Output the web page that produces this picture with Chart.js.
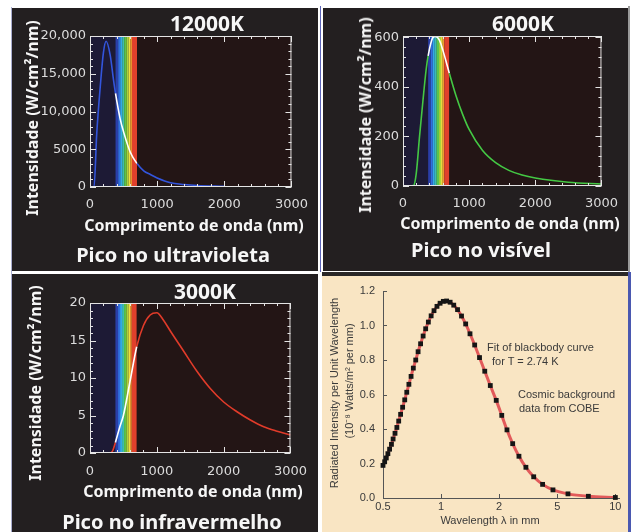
<!DOCTYPE html>
<html>
<head>
<meta charset="utf-8">
<script src="https://cdn.jsdelivr.net/npm/chart.js@4.4.1/dist/chart.umd.min.js"></script>
<style>
  body { margin: 0; width: 632px; height: 532px; background: #fff; position: relative; overflow: hidden; }
  .panel { position: absolute; background: #231f20; }
  .panel canvas { position: absolute; left: 0; top: 0; }
  .line { position: absolute; }
  .t { position: absolute; transform: translate(-50%, -50%); white-space: nowrap; font-family: "Noto Sans", sans-serif; font-weight: 700; color: #f6f6f6; line-height: 1; }
  .t.r { transform: translate(-50%, -50%) rotate(-90deg); }
  .h { font-size: 21px; }
  .ax { font-size: 16px; }
  .cap { font-size: 20px; }
  .c { position: absolute; white-space: nowrap; font-family: "Liberation Sans", Arial, sans-serif; font-size: 11px; color: #3a3a3a; line-height: 1; transform: translateY(-50%); }
  .c.mid { transform: translate(-50%, -50%); }
  .c.r { transform: translate(-50%, -50%) rotate(-90deg); }
</style>
</head>
<body>

<div class="line" style="left:11px; top:7px; width:1px; height:525px; background:#a9add0;"></div>
<div class="line" style="left:320px; top:6px; width:1px; height:266px; background:#5b63b8;"></div>
<div class="line" style="left:628px; top:6px; width:2px; height:266px; background:#9a9a9a;"></div>
<div class="line" style="left:322px; top:272px; width:306px; height:4px; background:#2a2828;"></div>
<div class="line" style="left:628px; top:272px; width:3px; height:260px; background:#4a58b0;"></div>

<div class="panel" style="left:12px; top:8px; width:306px; height:263px;"><canvas id="c12000" width="306" height="263"></canvas></div>
<div class="panel" style="left:323px; top:8px; width:305px; height:263px;"><canvas id="c6000" width="305" height="263"></canvas></div>
<div class="panel" style="left:12px; top:274px; width:306px; height:258px;"><canvas id="c3000" width="306" height="258"></canvas></div>
<div class="panel" style="left:322px; top:276px; width:306px; height:256px; background:#f9e5c3;"><canvas id="cobe" width="306" height="256"></canvas></div>

<!-- 12000K -->
<div class="t h" style="left:207px; top:23px;">12000K</div>
<div class="t ax r" style="left:32px; top:118px;">Intensidade (W/cm²/nm)</div>
<div class="t ax" style="left:194px; top:225px;">Comprimento de onda (nm)</div>
<div class="t cap" style="left:173px; top:255px;">Pico no ultravioleta</div>

<!-- 6000K -->
<div class="t h" style="left:523px; top:23px;">6000K</div>
<div class="t ax r" style="left:365px; top:115px;">Intensidade (W/cm²/nm)</div>
<div class="t ax" style="left:510px; top:223px;">Comprimento de onda (nm)</div>
<div class="t cap" style="left:481px; top:250px;">Pico no visível</div>

<!-- 3000K -->
<div class="t h" style="left:205px; top:291px;">3000K</div>
<div class="t ax r" style="left:35px; top:383px;">Intensidade (W/cm²/nm)</div>
<div class="t ax" style="left:193px; top:491px;">Comprimento de onda (nm)</div>
<div class="t cap" style="left:172px; top:522px;">Pico no infravermelho</div>

<!-- COBE -->
<div class="c r" style="left:334px; top:393px;">Radiated Intensity per Unit Wavelength</div>
<div class="c r" style="left:349px; top:381px;">(10⁻⁸ Watts/m² per mm)</div>
<div class="c mid" style="left:490px; top:520px;">Wavelength λ in mm</div>
<div class="c" style="left:487px; top:347px;">Fit of blackbody curve</div>
<div class="c" style="left:492px; top:361px;">for T = 2.74 K</div>
<div class="c" style="left:518px; top:394px;">Cosmic background</div>
<div class="c" style="left:519px; top:408px;">data from COBE</div>

<script>
// Wavelength samples (nm) and intensity (W/cm2/nm)
const wave12000 = [0, 60, 100, 150, 200, 240, 300, 350, 380, 450, 500, 600, 700, 800, 900, 1000, 1200, 1400, 1600, 2000];
const int12000 = [0, 0, 7000, 13000, 17800, 19300, 17500, 14200, 12400, 9000, 7300, 4600, 3100, 2150, 1650, 1200, 560, 330, 200, 80];

const wave6000 = [0, 100, 160, 200, 250, 300, 350, 380, 450, 490, 550, 600, 700, 800, 900, 1000, 1200, 1400, 1600, 1800, 2000, 2500, 3000];
const int6000 = [0, 0, 2, 50, 200, 340, 470, 525, 598, 603, 588, 550, 455, 365, 290, 228, 144, 94, 63, 44, 32, 15, 8];

const wave3000 = [0, 300, 340, 380, 450, 500, 600, 700, 800, 900, 1000, 1100, 1200, 1400, 1600, 1800, 2000, 2200, 2400, 2600, 2800, 3000];
const int3000 = [0, 0, 0.3, 1.4, 3.6, 5.0, 9.6, 14.2, 17.0, 18.4, 18.7, 17.7, 16.3, 13.6, 10.9, 8.6, 6.8, 5.5, 4.4, 3.5, 2.9, 2.4];

// Tick labels
const xTickValues = [0, 1000, 2000, 3000];
const yTicks12000 = [0, 5000, 10000, 15000, 20000];
const yLabels12000 = ['0', '5000', '10,000', '15,000', '20,000'];
const yTicks6000 = [0, 200, 400, 600];
const yLabels6000 = ['0', '200', '400', '600'];
const yTicks3000 = [0, 5, 10, 15, 20];
const yLabels3000 = ['0', '5', '10', '15', '20'];

// Visible spectrum bands (nm)
const bandEdges = [380, 420, 450, 480, 510, 545, 575, 600, 625, 700];
const bandColors = ['#2a3ea8', '#2f6fe0', '#32a8e8', '#3cbcb0', '#5cc44a', '#a8d43c', '#f0e040', '#f09a30', '#e0402c'];
const uvColor = '#1d1a35';
const irColor = '#231515';

// COBE data: wavelength (mm) and intensity
const cobeWave = [0.500, 0.510, 0.520, 0.530, 0.541, 0.553, 0.564, 0.577, 0.590, 0.603, 0.617, 0.632, 0.648, 0.664, 0.681, 0.699, 0.718, 0.739, 0.760, 0.783, 0.807, 0.832, 0.859, 0.888, 0.919, 0.952, 0.988, 1.027, 1.068, 1.114, 1.163, 1.217, 1.276, 1.341, 1.412, 1.493, 1.582, 1.684, 1.799, 1.931, 2.083, 2.262, 2.475, 2.732, 3.049, 3.448, 3.968, 4.673, 5.682, 7.246, 10.0];
const cobeData = [0.189, 0.210, 0.232, 0.257, 0.283, 0.311, 0.342, 0.375, 0.409, 0.446, 0.485, 0.526, 0.569, 0.613, 0.659, 0.705, 0.753, 0.800, 0.848, 0.894, 0.939, 0.981, 1.020, 1.056, 1.086, 1.111, 1.129, 1.140, 1.142, 1.135, 1.118, 1.092, 1.055, 1.009, 0.952, 0.887, 0.814, 0.735, 0.652, 0.566, 0.479, 0.395, 0.315, 0.242, 0.178, 0.123, 0.079, 0.047, 0.024, 0.010, 0.003];
const cobeTicks = [0.5, 1, 2, 5, 10];
const cobeYTicks = [0, 0.2, 0.4, 0.6, 0.8, 1.0, 1.2];

const tickColor = '#dcdcdc';

// evenly spaced ticks between min and max
function stepTicks(min, max, step) {
    const out = [];
    for (let v = min; v <= max + 1e-9; v += step) {
        out.push({ value: Math.round(v * 1000) / 1000 });
    }
    return out;
}

// COBE axis has the labels 0.5, 1, 2, 5, 10 evenly spaced
function axisPos(w) {
    for (let i = 0; i < cobeTicks.length - 1; i++) {
        if (w <= cobeTicks[i + 1]) {
            return i + Math.log(w / cobeTicks[i]) / Math.log(cobeTicks[i + 1] / cobeTicks[i]);
        }
    }
    return cobeTicks.length - 1;
}

function inBand(c) {
    return c.p0.parsed.x >= bandEdges[0] && c.p1.parsed.x <= bandEdges[bandEdges.length - 1];
}

// Spectrum background + white frame with inward ticks
const spectrumPlugin = {
    id: 'spectrum',
    beforeDatasetsDraw(chart) {
        const { ctx, chartArea: a, scales: { x } } = chart;
        ctx.save();
        const x0 = x.getPixelForValue(bandEdges[0]);
        ctx.fillStyle = uvColor;
        ctx.fillRect(a.left, a.top, x0 - a.left, a.height);
        for (let i = 0; i < bandColors.length; i++) {
            const l = x.getPixelForValue(bandEdges[i]);
            const r = x.getPixelForValue(bandEdges[i + 1]);
            ctx.fillStyle = bandColors[i];
            ctx.fillRect(l, a.top, r - l, a.height);
        }
        const xr = x.getPixelForValue(bandEdges[bandEdges.length - 1]);
        ctx.fillStyle = irColor;
        ctx.fillRect(xr, a.top, a.right - xr, a.height);
        ctx.restore();
    },
    afterDatasetsDraw(chart) {
        const { ctx, chartArea: a, scales: { x, y } } = chart;
        ctx.save();
        ctx.strokeStyle = '#e4e4e4';
        ctx.lineWidth = 1;
        ctx.strokeRect(a.left + 0.5, a.top + 0.5, a.width - 1, a.height - 1);
        ctx.beginPath();
        x.ticks.forEach(t => {
            const px = Math.round(x.getPixelForValue(t.value)) + 0.5;
            const len = t.label ? 6 : 3;
            ctx.moveTo(px, a.bottom); ctx.lineTo(px, a.bottom - len);
            ctx.moveTo(px, a.top); ctx.lineTo(px, a.top + len);
        });
        y.ticks.forEach(t => {
            const py = Math.round(y.getPixelForValue(t.value)) + 0.5;
            const len = t.label ? 6 : 3;
            ctx.moveTo(a.left, py); ctx.lineTo(a.left + len, py);
            ctx.moveTo(a.right, py); ctx.lineTo(a.right - len, py);
        });
        ctx.stroke();
        ctx.restore();
    }
};

function spectrumChart(id, wave, intensity, color, yMax, yMinor, yTicks, yLabels, pad, xPad) {
    return new Chart(document.getElementById(id), {
        type: 'line',
        data: {
            datasets: [{
                data: wave.map((w, i) => ({ x: w, y: intensity[i] })),
                borderColor: color,
                borderWidth: 1.6,
                pointRadius: 0,
                cubicInterpolationMode: 'monotone',
                segment: { borderColor: c => inBand(c) ? '#ffffff' : color }
            }]
        },
        options: {
            responsive: false,
            animation: false,
            layout: { padding: pad },
            plugins: { legend: { display: false }, tooltip: { enabled: false } },
            scales: {
                x: {
                    type: 'linear', min: 0, max: 3000,
                    grid: { display: false, drawTicks: false },
                    border: { display: false },
                    afterBuildTicks: s => { s.ticks = stepTicks(0, 3000, 200); },
                    afterFit: s => { s.height = 24; },
                    ticks: {
                        autoSkip: false, maxRotation: 0, padding: xPad, color: tickColor,
                        font: { family: 'DejaVu Sans', size: 13 },
                        callback: v => xTickValues.includes(v) ? String(v) : ''
                    }
                },
                y: {
                    type: 'linear', min: 0, max: yMax,
                    grid: { display: false, drawTicks: false },
                    border: { display: false },
                    afterBuildTicks: s => { s.ticks = stepTicks(0, yTicks[yTicks.length - 1], yMinor); },
                    afterFit: s => { s.width = 70; },
                    ticks: {
                        autoSkip: false, padding: 4, color: tickColor,
                        font: { family: 'DejaVu Sans', size: 13 },
                        callback: v => {
                            const i = yTicks.indexOf(v);
                            return i >= 0 ? yLabels[i] : '';
                        }
                    }
                }
            }
        },
        plugins: [spectrumPlugin]
    });
}

spectrumChart('c12000', wave12000, int12000, '#3355dd', 20000, 1000, yTicks12000, yLabels12000,
    { left: 8, right: 21, top: 28, bottom: 60 }, 10);
spectrumChart('c6000', wave6000, int6000, '#44c844', 605, 40, yTicks6000, yLabels6000,
    { left: 10, right: 18, top: 28, bottom: 61 }, 10);
spectrumChart('c3000', wave3000, int3000, '#e03b2a', 20, 1, yTicks3000, yLabels3000,
    { left: 8, right: 20, top: 29, bottom: 55 }, 11);

// COBE axis lines with inward ticks
const cobeAxesPlugin = {
    id: 'cobeAxes',
    beforeDatasetsDraw(chart) {
        const { ctx, chartArea: a, scales: { x, y } } = chart;
        ctx.save();
        ctx.strokeStyle = '#555';
        ctx.lineWidth = 1;
        ctx.beginPath();
        ctx.moveTo(a.left + 0.5, a.top); ctx.lineTo(a.left + 0.5, a.bottom + 0.5); ctx.lineTo(a.right, a.bottom + 0.5);
        x.ticks.forEach(t => {
            const px = Math.round(x.getPixelForValue(t.value)) + 0.5;
            ctx.moveTo(px, a.bottom); ctx.lineTo(px, a.bottom - 4);
        });
        y.ticks.forEach(t => {
            const py = Math.round(y.getPixelForValue(t.value)) + 0.5;
            ctx.moveTo(a.left, py); ctx.lineTo(a.left + 4, py);
        });
        ctx.stroke();
        ctx.restore();
    }
};

const cobePoints = cobeWave.map((w, i) => ({ x: axisPos(w), y: cobeData[i] }));

new Chart(document.getElementById('cobe'), {
    type: 'scatter',
    data: {
        datasets: [
            {
                data: cobePoints, showLine: false, pointStyle: 'rect', pointRadius: 3.4,
                backgroundColor: '#151515', borderWidth: 0, order: 0, clip: false
            },
            {
                data: cobePoints, showLine: true, borderColor: '#e25a5a', borderWidth: 3,
                pointRadius: 0, cubicInterpolationMode: 'monotone', order: 1
            }
        ]
    },
    options: {
        responsive: false,
        animation: false,
        layout: { padding: { left: 20, right: 8, top: 15, bottom: 18 } },
        plugins: { legend: { display: false }, tooltip: { enabled: false } },
        scales: {
            x: {
                type: 'linear', min: 0, max: 4.08,
                grid: { display: false, drawTicks: false },
                border: { display: false },
                afterBuildTicks: s => { s.ticks = cobeTicks.map((t, i) => ({ value: i })); },
                afterFit: s => { s.height = 16; },
                ticks: {
                    autoSkip: false, maxRotation: 0, padding: 2, color: '#3a3a3a',
                    font: { family: 'Liberation Sans', size: 11 },
                    callback: v => String(cobeTicks[v])
                }
            },
            y: {
                type: 'linear', min: 0, max: 1.2,
                grid: { display: false, drawTicks: false },
                border: { display: false },
                afterBuildTicks: s => { s.ticks = cobeYTicks.map(v => ({ value: v })); },
                afterFit: s => { s.width = 41; },
                ticks: {
                    autoSkip: false, padding: 8, color: '#3a3a3a',
                    font: { family: 'Liberation Sans', size: 11 },
                    callback: v => v.toFixed(1)
                }
            }
        }
    },
    plugins: [cobeAxesPlugin]
});
</script>
</body>
</html>
